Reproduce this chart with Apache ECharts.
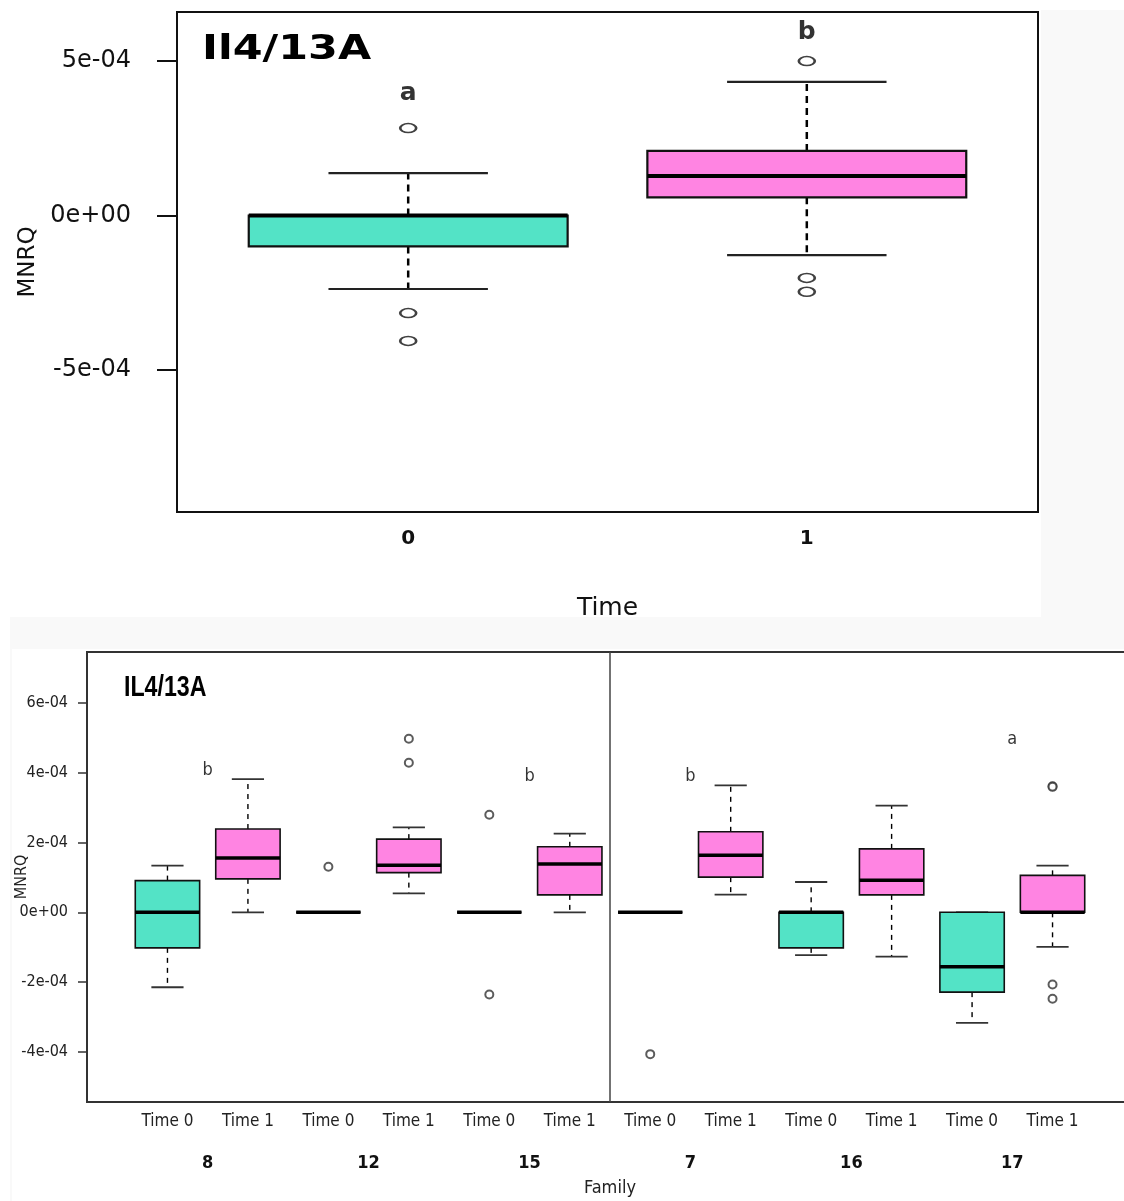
<!DOCTYPE html>
<html><head><meta charset="utf-8">
<script src="https://cdn.jsdelivr.net/npm/echarts@6/dist/echarts.min.js"></script>
<style>
html,body{margin:0;padding:0;background:#f9f9f9;width:1124px;height:1201px;overflow:hidden;}
.w{position:absolute;background:#fff;}
#chart{position:absolute;left:0;top:0;width:1124px;height:1201px;}
</style></head><body>
<div class="w" style="left:0;top:0;width:1124px;height:10px"></div>
<div class="w" style="left:0;top:0;width:10px;height:1201px"></div>
<div class="w" style="left:0;top:0;width:1041px;height:617px"></div>
<div class="w" style="left:12px;top:649px;width:1112px;height:552px"></div>
<div id="chart"></div>
<script>
// ---------- TOP PANEL DATA ----------
const topPositions = [0, 1];
const topCategoryLabels = ['0', '1'];
// [lowWhisker, Q1, median, Q3, highWhisker]
const topStats0 = [-2.38e-4, -1.00e-4, 0, 0, 1.37e-4];
const topStats1 = [-1.28e-4, 0.59e-4, 1.28e-4, 2.09e-4, 4.33e-4];
const topOutliers0 = [2.83e-4, -3.16e-4, -4.06e-4];
const topOutliers1 = [5.00e-4, -2.02e-4, -2.47e-4];
const topLetters = ['a', 'b'];
const topLetterY = [3.96e-4, 5.94e-4];
const topYTicks = [-5e-4, 0, 5e-4];
const topYTickLabels = ['-5e-04', '0e+00', '5e-04'];

// ---------- BOTTOM PANEL DATA ----------
const families = ['8', '12', '15', '7', '16', '17'];
const timeLabels = ['Time 0', 'Time 1'];
// per box, family order, Time 0 then Time 1: [lowWhisker, Q1, median, Q3, highWhisker]
const bot_8_T0  = [-2.15e-4, -1.02e-4, 0, 0.91e-4, 1.34e-4];
const bot_8_T1  = [0, 0.96e-4, 1.56e-4, 2.39e-4, 3.82e-4];
const bot_12_T0 = [0, 0, 0, 0, 0];
const bot_12_T1 = [0.545e-4, 1.14e-4, 1.35e-4, 2.10e-4, 2.44e-4];
const bot_15_T0 = [0, 0, 0, 0, 0];
const bot_15_T1 = [0, 0.50e-4, 1.39e-4, 1.88e-4, 2.26e-4];
const bot_7_T0  = [0, 0, 0, 0, 0];
const bot_7_T1  = [0.505e-4, 1.01e-4, 1.64e-4, 2.31e-4, 3.64e-4];
const bot_16_T0 = [-1.23e-4, -1.02e-4, 0, 0, 0.87e-4];
const bot_16_T1 = [-1.27e-4, 0.50e-4, 0.92e-4, 1.82e-4, 3.06e-4];
const bot_17_T0 = [-3.17e-4, -2.29e-4, -1.56e-4, 0, 0];
const bot_17_T1 = [-0.99e-4, 0, 0, 1.06e-4, 1.34e-4];
const botOut_8_T0 = [], botOut_8_T1 = [];
const botOut_12_T0 = [1.31e-4], botOut_12_T1 = [4.98e-4, 4.29e-4];
const botOut_15_T0 = [2.80e-4, -2.36e-4], botOut_15_T1 = [];
const botOut_7_T0 = [-4.07e-4], botOut_7_T1 = [];
const botOut_16_T0 = [], botOut_16_T1 = [];
const botOut_17_T0 = [], botOut_17_T1 = [3.62e-4, 3.60e-4, -2.07e-4, -2.48e-4];
const botLetterFamilies = ['8', '15', '7', '17'];
const botLetters = ['b', 'b', 'b', 'a'];
const botLetterY = [4.08e-4, 3.91e-4, 3.91e-4, 4.97e-4];
const botYTicks = [-4e-4, -2e-4, 0, 2e-4, 4e-4, 6e-4];
const botYTickLabels = ['-4e-04', '-2e-04', '0e+00', '2e-04', '4e-04', '6e-04'];

// ---------- STYLE ----------
const TEAL = '#53e3c6';
const PINK = '#ff84e2';
const timeColors = [TEAL, PINK];
const TOPFONT = '"DejaVu Sans", "Liberation Sans", sans-serif';
const BOTFONT = '"Liberation Sans Narrow", "DejaVu Sans Condensed", "Arial Narrow", "Liberation Sans", sans-serif';

// ---------- BUILD ----------
const botStatsList = [bot_8_T0, bot_8_T1, bot_12_T0, bot_12_T1, bot_15_T0, bot_15_T1,
                      bot_7_T0, bot_7_T1, bot_16_T0, bot_16_T1, bot_17_T0, bot_17_T1];
const botOutList = [botOut_8_T0, botOut_8_T1, botOut_12_T0, botOut_12_T1, botOut_15_T0, botOut_15_T1,
                    botOut_7_T0, botOut_7_T1, botOut_16_T0, botOut_16_T1, botOut_17_T0, botOut_17_T1];
const botPositions = botStatsList.map((_, i) => i + 1);
const botTimeIndex = botStatsList.map((_, i) => i % 2);
const famPositions = families.map((_, i) => 2 * i + 1.5);
const dividerAt = families.length + 0.5;

const topBoxData = [topStats0, topStats1].map((s, i) => [topPositions[i], ...s, i]);
const botBoxData = botStatsList.map((s, i) => [botPositions[i], ...s, botTimeIndex[i]]);

const topOutData = [];
topOutliers0.forEach(v => topOutData.push([topPositions[0], v]));
topOutliers1.forEach(v => topOutData.push([topPositions[1], v]));
const botOutData = [];
botOutList.forEach((arr, i) => arr.forEach(v => botOutData.push([botPositions[i], v])));

const topLetterData = topLetters.map((t, i) => ({value: [topPositions[i], topLetterY[i]], name: t}));
const botLetterData = botLetters.map((t, i) => ({value: [famPositions[families.indexOf(botLetterFamilies[i])], botLetterY[i]], name: t}));

function boxRenderer(cfg) {
  return function (params, api) {
    const x = api.value(0);
    const lo = api.value(1), q1 = api.value(2), med = api.value(3), q3 = api.value(4), hi = api.value(5);
    const col = timeColors[api.value(6)];
    const cx = api.coord([x, 0])[0];
    const hb = api.size([cfg.boxw, 0])[0] / 2;
    const hc = hb / 2;
    const y = v => api.coord([x, v])[1];
    const ch = [];
    const dashStyle = {stroke: '#000', lineWidth: cfg.wl, lineDash: cfg.dash};
    if (hi > q3) ch.push({type: 'line', shape: {x1: cx, y1: y(q3), x2: cx, y2: y(hi)}, style: dashStyle});
    if (lo < q1) ch.push({type: 'line', shape: {x1: cx, y1: y(q1), x2: cx, y2: y(lo)}, style: dashStyle});
    ch.push({type: 'line', shape: {x1: cx - hc, y1: y(hi), x2: cx + hc, y2: y(hi)}, style: {stroke: cfg.capc, lineWidth: cfg.cl}});
    ch.push({type: 'line', shape: {x1: cx - hc, y1: y(lo), x2: cx + hc, y2: y(lo)}, style: {stroke: cfg.capc, lineWidth: cfg.cl}});
    ch.push({type: 'rect', shape: {x: cx - hb, y: y(q3), width: 2 * hb, height: y(q1) - y(q3)},
             style: {fill: col, stroke: '#111', lineWidth: cfg.bl}});
    ch.push({type: 'line', shape: {x1: cx - hb, y1: y(med), x2: cx + hb, y2: y(med)}, style: {stroke: '#000', lineWidth: cfg.ml}});
    return {type: 'group', children: ch};
  };
}

function fmtFrom(ticks, labels) {
  return function (v) {
    let best = 0;
    ticks.forEach((t, i) => { if (Math.abs(t - v) < Math.abs(ticks[best] - v)) best = i; });
    return labels[best];
  };
}

const option = {
  animation: false,
  backgroundColor: 'transparent',
  grid: [
    {left: 177, top: 12, width: 861, height: 500, show: true, borderColor: '#111', borderWidth: 2,
     backgroundColor: 'transparent', containLabel: false, outerBoundsMode: 'none'},
    {left: 87, top: 652, width: 1046, height: 450, show: true, borderColor: '#333', borderWidth: 2,
     backgroundColor: 'transparent', containLabel: false, outerBoundsMode: 'none'}
  ],
  xAxis: [
    {type: 'value', gridIndex: 0, position: 'bottom', min: -0.58, max: 1.58, splitLine: {show: false},
     axisLine: {show: false, onZero: false}, axisTick: {show: false},
     axisLabel: {customValues: topPositions, formatter: fmtFrom(topPositions, topCategoryLabels),
                 margin: 17, fontSize: 20, fontWeight: 'bold', fontFamily: TOPFONT, color: '#111'},
     name: 'Time', nameLocation: 'middle', nameGap: 84, nameMoveOverlap: false,
     nameTextStyle: {fontSize: 25, fontFamily: TOPFONT, color: '#111'}},
    {type: 'value', gridIndex: 1, position: 'bottom', min: 0, max: 13, splitLine: {show: false},
     axisLine: {show: false, onZero: false}, axisTick: {show: false},
     axisLabel: {customValues: botPositions, formatter: fmtFrom(botPositions, botTimeIndex.map(t => timeLabels[t])),
                 margin: 11, fontSize: 17, fontFamily: BOTFONT, color: '#222'}},
    {type: 'value', gridIndex: 1, position: 'bottom', min: 0, max: 13, splitLine: {show: false},
     axisLine: {show: false, onZero: false}, axisTick: {show: false},
     axisLabel: {customValues: famPositions, formatter: fmtFrom(famPositions, families),
                 margin: 52, fontSize: 18, fontWeight: 'bold', fontFamily: BOTFONT, color: '#111'},
     name: 'Family', nameLocation: 'middle', nameGap: 77, nameMoveOverlap: false,
     nameTextStyle: {fontSize: 18, fontFamily: BOTFONT, color: '#222'}}
  ],
  yAxis: [
    {type: 'value', gridIndex: 0, position: 'left', min: -9.6e-4, max: 6.59e-4, splitLine: {show: false},
     axisLine: {show: false, onZero: false},
     axisTick: {show: true, customValues: topYTicks, length: 20, lineStyle: {color: '#111', width: 2}},
     axisLabel: {customValues: topYTicks, formatter: fmtFrom(topYTicks, topYTickLabels),
                 margin: 46, fontSize: 24, fontFamily: TOPFONT, color: '#111'},
     name: 'MNRQ', nameLocation: 'middle', nameGap: 137, nameRotate: 90, nameMoveOverlap: false,
     nameTextStyle: {fontSize: 23, fontFamily: TOPFONT, color: '#111'}},
    {type: 'value', gridIndex: 1, position: 'left', min: -5.443e-4, max: 7.47e-4, splitLine: {show: false},
     axisLine: {show: false, onZero: false},
     axisTick: {show: true, customValues: botYTicks, length: 9, lineStyle: {color: '#333', width: 1.5}},
     axisLabel: {customValues: botYTicks, formatter: fmtFrom(botYTicks, botYTickLabels),
                 margin: 19, fontSize: 16, fontFamily: BOTFONT, color: '#222'},
     name: 'MNRQ', nameLocation: 'middle', nameGap: 57, nameRotate: 90, nameMoveOverlap: false,
     nameTextStyle: {fontSize: 16, fontFamily: BOTFONT, color: '#222'}}
  ],
  graphic: [
    {type: 'text', x: 202, y: 50, scaleX: 1.3,
     style: {text: 'Il4/13A', font: 'bold 33px "DejaVu Sans"', fill: '#000', verticalAlign: 'middle', align: 'left'}},
    {type: 'text', x: 124, y: 688, scaleX: 0.8,
     style: {text: 'IL4/13A', font: 'bold 29px "Liberation Sans"', fill: '#000', verticalAlign: 'middle', align: 'left'}}
  ],
  series: [
    {type: 'custom', xAxisIndex: 0, yAxisIndex: 0, data: topBoxData, clip: false,
     renderItem: boxRenderer({boxw: 0.8, wl: 2.5, dash: [7, 5], cl: 2.2, capc: '#222', bl: 2.2, ml: 4})},
    {type: 'scatter', xAxisIndex: 0, yAxisIndex: 0, data: topOutData, symbol: 'emptyCircle', symbolSize: [16, 9],
     itemStyle: {color: '#111', borderColor: '#111', borderWidth: 2}},
    {type: 'scatter', xAxisIndex: 0, yAxisIndex: 0, data: topLetterData, symbolSize: 0,
     label: {show: true, position: 'inside', formatter: p => p.name, fontSize: 25, fontWeight: 'bold', fontFamily: TOPFONT, color: '#000'}},
    {type: 'custom', xAxisIndex: 1, yAxisIndex: 1, data: botBoxData, clip: false,
     renderItem: boxRenderer({boxw: 0.8, wl: 1.4, dash: [5, 5], cl: 1.8, capc: '#333', bl: 1.6, ml: 3.5}),
     markLine: {silent: true, symbol: 'none', label: {show: false},
                lineStyle: {color: '#444', width: 1.5, type: 'solid'}, data: [{xAxis: dividerAt}]}},
    {type: 'scatter', xAxisIndex: 1, yAxisIndex: 1, data: botOutData, symbol: 'emptyCircle', symbolSize: 8,
     itemStyle: {color: '#333', borderColor: '#333', borderWidth: 1.4}},
    {type: 'scatter', xAxisIndex: 1, yAxisIndex: 1, data: botLetterData, symbolSize: 0,
     label: {show: true, position: 'inside', formatter: p => p.name, fontSize: 18, fontFamily: BOTFONT, color: '#000'}}
  ]
};
const chart = echarts.init(document.getElementById('chart'), null, {renderer: 'canvas'});
chart.setOption(option);
</script>
</body></html>
